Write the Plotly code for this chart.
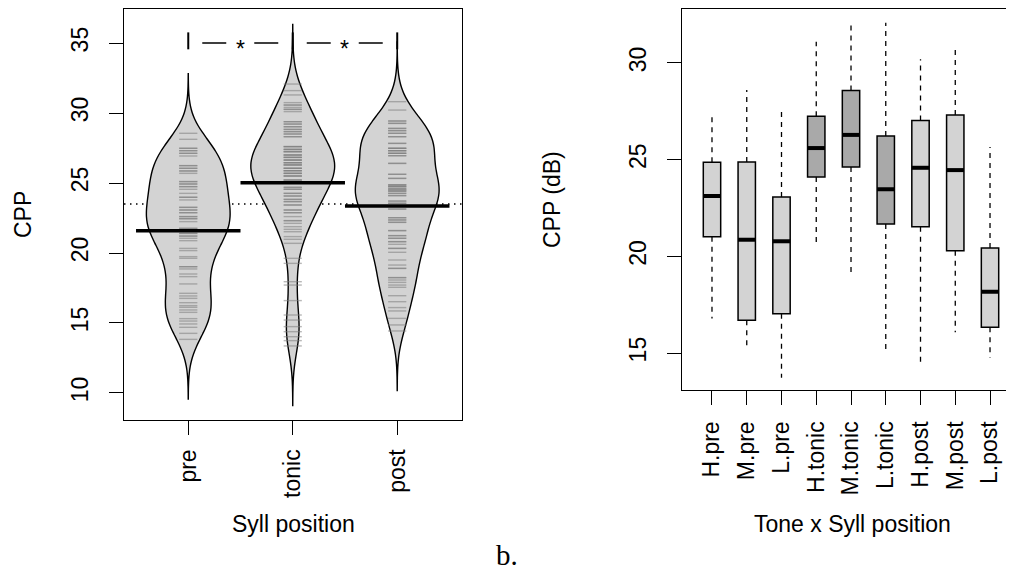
import numpy as np
import plotly.graph_objects as go

# ---------------- data: left panel (beanplot) ----------------
positions = ["pre", "tonic", "post"]

pre_values = [28.55, 28.12, 27.48, 27.31, 27.12, 26.93, 26.24, 26.05, 25.86, 25.69,
              25.10, 24.93, 24.74, 24.55, 24.26, 23.98, 23.79, 23.26, 23.07, 22.88,
              22.60, 22.45, 22.24, 21.76, 21.60, 21.40, 21.21, 21.05, 20.88, 20.33,
              20.17, 19.74, 19.62, 19.02, 18.86, 18.50, 18.31, 17.79, 17.12, 16.93,
              16.76, 16.45, 16.24, 16.12, 15.93, 15.76, 15.31, 15.14, 14.93, 14.69,
              14.26, 13.83]
pre_counts = [1, 1, 2, 2, 2, 1, 2, 2, 2, 1,
              2, 2, 2, 1, 1, 2, 1, 2, 2, 2,
              2, 2, 1, 2, 2, 2, 2, 1, 1, 1,
              1, 1, 1, 2, 1, 1, 1, 1, 1, 1,
              1, 1, 1, 1, 1, 1, 1, 1, 1, 1,
              1, 1]

tonic_values = [32.07, 31.60, 31.29, 30.74, 30.57, 30.40, 30.26, 30.10, 29.38, 29.21,
                29.02, 28.83, 28.67, 28.50, 28.31, 27.60, 27.40, 27.24, 27.00, 26.83,
                26.64, 26.45, 26.29, 26.05, 25.88, 25.69, 25.50, 25.21, 24.98, 24.69,
                24.55, 24.26, 24.07, 23.83, 23.67, 23.43, 23.07, 22.88, 22.60, 22.31,
                22.12, 21.88, 21.69, 21.52, 21.17, 20.98, 20.69, 19.62, 19.26, 17.95,
                17.71, 16.60, 15.57, 15.21, 14.74, 14.38, 14.02, 13.74, 13.36]
tonic_counts = [1, 1, 1, 1, 2, 1, 2, 1, 2, 2,
                2, 2, 2, 2, 2, 3, 3, 3, 3, 3,
                3, 3, 3, 3, 3, 3, 3, 3, 3, 2,
                2, 2, 2, 2, 2, 2, 2, 2, 1, 2,
                1, 1, 1, 1, 1, 1, 1, 1, 1, 1,
                1, 1, 1, 1, 1, 1, 1, 1, 1]

post_values = [30.81, 30.21, 29.43, 29.26, 28.90, 28.74, 28.55, 28.31, 27.83, 27.48,
               27.31, 27.12, 26.95, 26.40, 25.62, 25.33, 24.86, 24.74, 24.57, 24.43,
               24.26, 24.10, 23.71, 23.55, 23.14, 22.52, 22.36, 22.19, 21.60, 21.24,
               21.05, 20.81, 20.62, 20.33, 20.05, 19.50, 19.14, 18.90, 18.24, 18.07,
               17.90, 17.71, 17.55, 16.95, 16.52, 16.10, 15.86, 15.33, 14.86, 14.43]
post_counts = [1, 1, 2, 2, 2, 2, 2, 2, 2, 3,
               3, 3, 2, 2, 2, 2, 3, 3, 3, 3,
               2, 2, 2, 2, 2, 2, 2, 2, 2, 2,
               2, 2, 1, 2, 1, 1, 1, 2, 2, 1,
               1, 1, 1, 1, 1, 1, 1, 1, 1, 1]

bean_means = [21.59, 25.02, 23.36]
overall_mean = 23.5
bandwidth = 1.42
sig_level = 35
sig_pairs = [(0, 1, "*"), (1, 2, "*")]

# ---------------- data: right panel (boxplot) ----------------
box_labels = ["H.pre", "M.pre", "L.pre", "H.tonic", "M.tonic", "L.tonic",
              "H.post", "M.post", "L.post"]
box_lower = [16.79, 15.20, 13.72, 20.53, 19.12, 15.07, 14.41, 16.07, 14.76]
box_q1 = [21.02, 16.70, 17.03, 24.10, 24.62, 21.67, 21.53, 20.29, 16.33]
box_median = [23.12, 20.86, 20.78, 25.60, 26.28, 23.47, 24.58, 24.46, 18.17]
box_q3 = [24.86, 24.88, 23.07, 27.24, 28.57, 26.22, 27.03, 27.31, 20.43]
box_upper = [27.43, 28.60, 27.47, 31.10, 32.05, 32.08, 30.19, 30.76, 25.65]

# ---------------- styles / geometry ----------------
OFF = 8                      # page body margin of the html page
W, H = 1014 - OFF, 573 - OFF  # figure size so the page fits the window exactly
FONT = "Liberation Sans, Arial, Helvetica, sans-serif"
FS = 23
BEAN_FILL = "#d3d3d3"
BEANLINE = "rgba(125,125,125,0.55)"
LIGHT = "#d3d3d3"
DARK = "#a9a9a9"


def xd(p):
    return (p - OFF) / W


def yd(p):
    return 1 - (p - OFF) / H


fig = go.Figure()

# overall mean dotted line (below the beans)
fig.add_shape(type="line", xref="x domain", yref="y", x0=0, x1=1,
              y0=overall_mean, y1=overall_mean, layer="below",
              line=dict(color="black", width=1.3, dash="1.5px,4.5px"))

# ---- beans ----
groups = [(pre_values, pre_counts), (tonic_values, tonic_counts), (post_values, post_counts)]
for i, (vals, cnts) in enumerate(groups):
    samples = np.repeat(np.array(vals), np.array(cnts))
    fig.add_trace(go.Violin(
        x0=i + 1, y=samples, xaxis="x", yaxis="y",
        bandwidth=bandwidth, spanmode="manual",
        span=[float(samples.min() - 3 * bandwidth), float(samples.max() + 3 * bandwidth)],
        scalegroup="beans", scalemode="width", width=0.8,
        fillcolor=BEAN_FILL, line=dict(color="black", width=1.4),
        points="all", jitter=0, pointpos=0,
        marker=dict(symbol="line-ew", size=13, color=BEANLINE,
                    line=dict(color=BEANLINE, width=1.4)),
        hoverinfo="skip", showlegend=False,
    ))

# ---- mean lines ----
mx, my = [], []
for i, m in enumerate(bean_means):
    mx += [i + 1 - 0.5, i + 1 + 0.5, None]
    my += [m, m, None]
fig.add_trace(go.Scatter(x=mx, y=my, mode="lines", xaxis="x", yaxis="y",
                         line=dict(color="black", width=3.5), hoverinfo="skip",
                         showlegend=False))

# ---- significance brackets ----
for a, b, label in sig_pairs:
    fig.add_trace(go.Scatter(x=[a + 1, b + 1], y=[sig_level, sig_level], mode="lines",
                             xaxis="x", yaxis="y",
                             line=dict(color="black", width=1.5,
                                       dash="0px,14px,24px,28px,24px,14px"),
                             hoverinfo="skip", showlegend=False))
    fig.add_annotation(x=(a + b) / 2 + 1, y=sig_level, xref="x", yref="y", text=label,
                       showarrow=False, yshift=-6,
                       font=dict(family=FONT, size=FS, color="black"))
tick_groups = sorted({g for a, b, _ in sig_pairs for g in (a, b)})
tx, ty = [], []
for g in tick_groups:
    tx += [g + 1, g + 1, None]
    ty += [sig_level - 0.45, sig_level + 0.76, None]
fig.add_trace(go.Scatter(x=tx, y=ty, mode="lines", xaxis="x", yaxis="y",
                         line=dict(color="black", width=2), hoverinfo="skip",
                         showlegend=False))

# ---- boxplot ----
wx, wy = [], []
for i in range(len(box_labels)):
    wx += [i + 1, i + 1, None, i + 1, i + 1, None]
    wy += [box_q3[i], box_upper[i], None, box_q1[i], box_lower[i], None]
fig.add_trace(go.Scatter(x=wx, y=wy, mode="lines", xaxis="x2", yaxis="y2",
                         line=dict(color="black", width=1.3, dash="5px,5px"),
                         hoverinfo="skip", showlegend=False))

for i, lab in enumerate(box_labels):
    col = DARK if "tonic" in lab else LIGHT
    fig.add_trace(go.Box(x=[i + 1], q1=[box_q1[i]], median=[box_median[i]],
                         q3=[box_q3[i]], lowerfence=[box_q1[i]], upperfence=[box_q3[i]],
                         width=0.5, fillcolor=col, line=dict(color="black", width=1.5),
                         boxpoints=False, xaxis="x2", yaxis="y2", hoverinfo="skip",
                         showlegend=False))

mdx, mdy = [], []
for i, m in enumerate(box_median):
    mdx += [i + 1 - 0.25, i + 1 + 0.25, None]
    mdy += [m, m, None]
fig.add_trace(go.Scatter(x=mdx, y=mdy, mode="lines", xaxis="x2", yaxis="y2",
                         line=dict(color="black", width=4), hoverinfo="skip",
                         showlegend=False))

axis_common = dict(showgrid=False, zeroline=False, showline=True, linecolor="black",
                   linewidth=1.3, ticks="outside", ticklen=14, tickwidth=1.3,
                   tickcolor="black",
                   tickfont=dict(family=FONT, size=FS, color="black"))

fig.update_layout(
    width=W, height=H, autosize=False,
    margin=dict(l=0, r=0, t=0, b=0),
    paper_bgcolor="white", plot_bgcolor="white",
    violinmode="overlay", boxmode="overlay",
    showlegend=False,
    xaxis=dict(domain=[xd(124), xd(462)], range=[0.385, 3.62],
               tickmode="array", tickvals=[1, 2, 3], ticktext=positions,
               tickangle=-90, mirror=True, anchor="y", ticklabelstandoff=5,
               **axis_common),
    yaxis=dict(domain=[yd(420), yd(9)], range=[8.07, 37.43],
               tickmode="array", tickvals=[10, 15, 20, 25, 30, 35],
               tickangle=-90, mirror=True, anchor="x", ticklabelstandoff=12,
               **axis_common),
    xaxis2=dict(domain=[xd(682), 1.0], range=[0.137, 9.69],
                tickmode="array", tickvals=list(range(1, len(box_labels) + 1)),
                ticktext=box_labels, tickangle=-90, mirror=True, anchor="y2",
                ticklabelstandoff=7, **axis_common),
    yaxis2=dict(domain=[yd(390), yd(9)], range=[13.09, 32.79],
                tickmode="array", tickvals=[15, 20, 25, 30],
                tickangle=-90, mirror=False, anchor="x2", ticklabelstandoff=12,
                **axis_common),
)


def ann(text, xp, yp, angle=0, size=FS, family=FONT):
    fig.add_annotation(x=xd(xp), y=yd(yp), xref="paper", yref="paper", text=text,
                       showarrow=False, textangle=angle, xanchor="center",
                       yanchor="middle", font=dict(family=family, size=size, color="black"))


ann("CPP", 23, 215, angle=-90)
ann("CPP (dB)", 552, 200, angle=-90)
ann("Syll position", 293, 524)
ann("Tone x Syll position", 852, 524)
ann("b.", 507, 555, size=29, family="Liberation Serif, DejaVu Serif, serif")

fig.write_html("out.html")
